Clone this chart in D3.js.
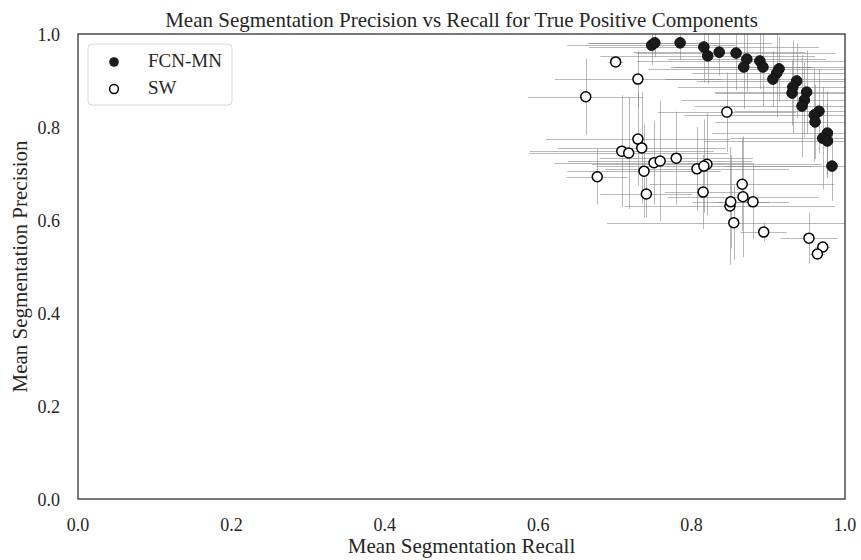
<!DOCTYPE html>
<meta charset="utf-8">
<script src="https://d3js.org/d3.v7.min.js"></script>
<style>
  body { margin: 0; background: #fff; font-family: 'Liberation Serif', 'Times New Roman', serif; }
</style>
<div id="chart"></div>
<script>
// FCN-MN: recall, precision, recall err, precision err
var fcnRecall    = [0.748, 0.752, 0.785, 0.816, 0.821, 0.836, 0.858, 0.872, 0.868, 0.889, 0.893, 0.914, 0.911, 0.906, 0.937, 0.932, 0.931, 0.950, 0.947, 0.944, 0.966, 0.960, 0.961, 0.977, 0.971, 0.977, 0.983];
var fcnPrecision = [0.976, 0.981, 0.981, 0.972, 0.953, 0.961, 0.959, 0.946, 0.929, 0.942, 0.929, 0.925, 0.916, 0.903, 0.899, 0.886, 0.873, 0.875, 0.858, 0.845, 0.834, 0.826, 0.811, 0.787, 0.776, 0.770, 0.716];
var fcnRecallErr = [0.110, 0.085, 0.120, 0.150, 0.140, 0.112, 0.130, 0.103, 0.090, 0.160, 0.120, 0.170, 0.110, 0.140, 0.130, 0.150, 0.100, 0.120, 0.160, 0.140, 0.110, 0.170, 0.130, 0.150, 0.120, 0.160, 0.140];
var fcnPrecErr   = [0.043, 0.030, 0.037, 0.077, 0.060, 0.050, 0.080, 0.070, 0.090, 0.060, 0.085, 0.070, 0.095, 0.060, 0.080, 0.100, 0.070, 0.090, 0.080, 0.110, 0.090, 0.100, 0.080, 0.090, 0.110, 0.080, 0.075];

// SW
var swRecall    = [0.701, 0.730, 0.662, 0.846, 0.730, 0.709, 0.718, 0.735, 0.677, 0.738, 0.751, 0.759, 0.780, 0.807, 0.820, 0.816, 0.741, 0.815, 0.850, 0.866, 0.867, 0.851, 0.880, 0.855, 0.894, 0.953, 0.971, 0.964];
var swPrecision = [0.940, 0.903, 0.865, 0.832, 0.774, 0.748, 0.744, 0.755, 0.693, 0.705, 0.723, 0.727, 0.733, 0.710, 0.720, 0.716, 0.656, 0.660, 0.630, 0.677, 0.650, 0.639, 0.639, 0.594, 0.574, 0.561, 0.542, 0.527];
var swRecallErr = [0.010, 0.108, 0.075, 0.090, 0.120, 0.120, 0.130, 0.110, 0.040, 0.100, 0.130, 0.120, 0.100, 0.120, 0.150, 0.140, 0.060, 0.050, 0.137, 0.120, 0.098, 0.050, 0.047, 0.165, 0.030, 0.037, 0.010, 0.010];
var swPrecErr   = [0.010, 0.060, 0.082, 0.085, 0.100, 0.120, 0.120, 0.120, 0.060, 0.100, 0.090, 0.130, 0.100, 0.090, 0.110, 0.100, 0.050, 0.080, 0.127, 0.100, 0.130, 0.100, 0.080, 0.080, 0.020, 0.055, 0.010, 0.010];

var xTicks = [0.0, 0.2, 0.4, 0.6, 0.8, 1.0];
var yTicks = [0.0, 0.2, 0.4, 0.6, 0.8, 1.0];

var W = 861, H = 560;
var margin = {top: 34, left: 78, right: 16, bottom: 61};
var width = W - margin.left - margin.right, height = H - margin.top - margin.bottom;

var svg = d3.select("#chart").append("svg")
    .attr("width", W).attr("height", H);

var g = svg.append("g")
    .attr("transform", "translate(" + margin.left + "," + margin.top + ")");

var x = d3.scaleLinear().domain([0, 1]).range([0, width]);
var y = d3.scaleLinear().domain([0, 1]).range([height, 0]);

g.append("clipPath").attr("id", "clip")
  .append("rect").attr("width", width).attr("height", height);

function rows(rc, pr, re, pe) {
  return rc.map(function(d, i) { return {x: d, y: pr[i], xe: re[i], ye: pe[i]}; });
}
var fcn = rows(fcnRecall, fcnPrecision, fcnRecallErr, fcnPrecErr);
var sw = rows(swRecall, swPrecision, swRecallErr, swPrecErr);

// error bars
var bars = g.append("g").attr("clip-path", "url(#clip)");
[fcn, sw].forEach(function(data) {
  bars.selectAll(null).data(data).enter().append("line")
    .attr("x1", function(d) { return x(d.x - d.xe); })
    .attr("x2", function(d) { return x(d.x + d.xe); })
    .attr("y1", function(d) { return Math.round(y(d.y)) + 0.5; })
    .attr("y2", function(d) { return Math.round(y(d.y)) + 0.5; })
    .attr("stroke", "#808080").attr("stroke-opacity", 0.55).attr("stroke-width", 1);
  bars.selectAll(null).data(data).enter().append("line")
    .attr("x1", function(d) { return Math.round(x(d.x)) + 0.5; })
    .attr("x2", function(d) { return Math.round(x(d.x)) + 0.5; })
    .attr("y1", function(d) { return y(d.y - d.ye); })
    .attr("y2", function(d) { return y(d.y + d.ye); })
    .attr("stroke", "#808080").attr("stroke-opacity", 0.55).attr("stroke-width", 1);
});

// markers
g.selectAll(".fcn").data(fcn).enter().append("circle")
  .attr("class", "fcn")
  .attr("cx", function(d) { return x(d.x); })
  .attr("cy", function(d) { return y(d.y); })
  .attr("r", 5.3)
  .attr("fill", "#1a1a1a").attr("stroke", "#111").attr("stroke-width", 1);

g.selectAll(".sw").data(sw).enter().append("circle")
  .attr("class", "sw")
  .attr("cx", function(d) { return x(d.x); })
  .attr("cy", function(d) { return y(d.y); })
  .attr("r", 5)
  .attr("fill", "#fff").attr("stroke", "#000").attr("stroke-width", 1.5);

// frame
g.append("rect").attr("width", width).attr("height", height)
  .attr("fill", "none").attr("stroke", "#333").attr("stroke-width", 1.3);

// tick labels
g.selectAll(".xt").data(xTicks).enter().append("text")
  .attr("x", function(d) { return x(d); })
  .attr("y", height + 32)
  .attr("text-anchor", "middle")
  .style("font-size", "18px").attr("fill", "#262626")
  .text(function(d) { return d.toFixed(1); });

g.selectAll(".yt").data(yTicks).enter().append("text")
  .attr("x", -18)
  .attr("y", function(d) { return y(d) + 7; })
  .attr("text-anchor", "end")
  .style("font-size", "18px").attr("fill", "#262626")
  .text(function(d) { return d.toFixed(1); });

// titles
svg.append("text")
  .attr("x", margin.left + width / 2).attr("y", 27)
  .attr("text-anchor", "middle")
  .style("font-size", "21px").attr("fill", "#262626")
  .text("Mean Segmentation Precision vs Recall for True Positive Components");

svg.append("text")
  .attr("x", margin.left + width / 2).attr("y", 553)
  .attr("text-anchor", "middle")
  .style("font-size", "21px").attr("fill", "#262626")
  .text("Mean Segmentation Recall");

svg.append("text")
  .attr("transform", "translate(27," + (margin.top + height / 2) + ") rotate(-90)")
  .attr("text-anchor", "middle")
  .style("font-size", "21px").attr("fill", "#262626")
  .text("Mean Segmentation Precision");

// legend
var leg = svg.append("g").attr("transform", "translate(88,44)");
leg.append("rect").attr("width", 144).attr("height", 61).attr("rx", 4)
  .attr("fill", "#fff").attr("stroke", "#d9d9d9");
leg.append("circle").attr("cx", 26).attr("cy", 18).attr("r", 4.8).attr("fill", "#1a1a1a");
leg.append("circle").attr("cx", 26).attr("cy", 45).attr("r", 4.4)
  .attr("fill", "#fff").attr("stroke", "#000").attr("stroke-width", 1.5);
leg.append("text").attr("x", 60).attr("y", 23).style("font-size", "19px").attr("fill", "#262626").text("FCN-MN");
leg.append("text").attr("x", 60).attr("y", 50).style("font-size", "19px").attr("fill", "#262626").text("SW");
</script>
